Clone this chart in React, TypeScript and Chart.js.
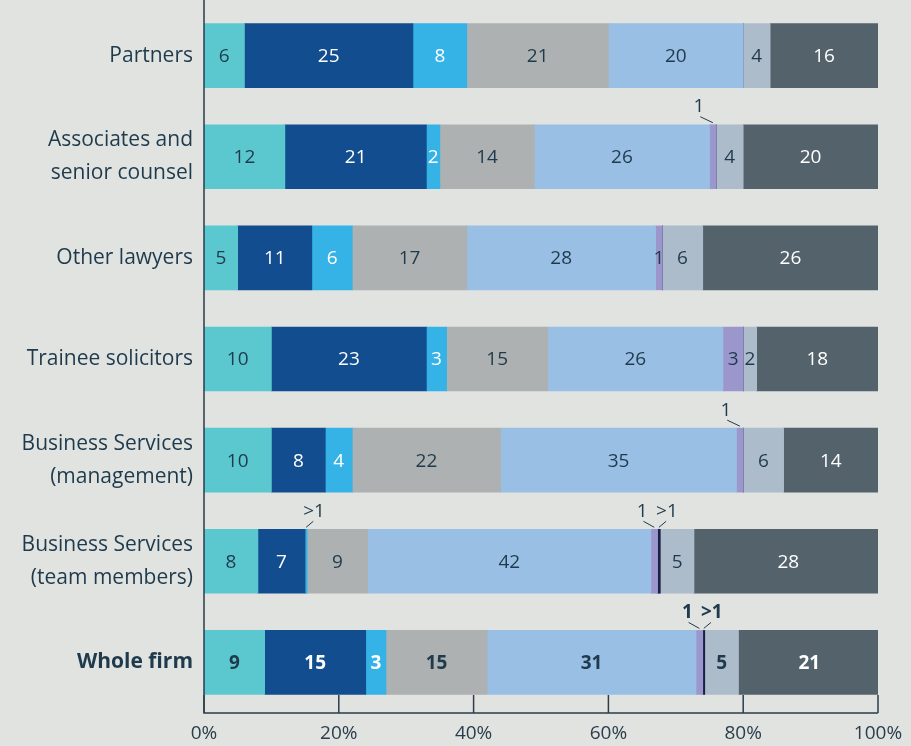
import React, { useEffect, useRef } from "react";
import { Chart, registerables } from "chart.js";

Chart.register(...registerables);

const categories: string[][] = [
  ["Partners"],
  ["Associates and", "senior counsel"],
  ["Other lawyers"],
  ["Trainee solicitors"],
  ["Business Services", "(management)"],
  ["Business Services", "(team members)"],
  ["Whole firm"],
];

const teal = [6, 12, 5, 10, 10, 8, 9];
const darkBlue = [25, 21, 11, 23, 8, 7, 15];
const brightBlue = [8, 2, 6, 3, 4, 0.3, 3];
const grey = [21, 14, 17, 15, 22, 9, 15];
const lightBlue = [20, 26, 28, 26, 35, 42, 31];
const lavender = [0, 1, 1, 3, 1, 1, 1];
const navy = [0, 0, 0, 0, 0, 0.4, 0.3];
const blueGrey = [4, 4, 6, 2, 6, 5, 5];
const slate = [16, 20, 26, 18, 14, 28, 21];

const xTicks = [0, 20, 40, 60, 80, 100];

// small values shown above the bar with a leader line: [row, series, side offset]
const callouts: [number, number, number][] = [
  [1, 5, -14],
  [4, 5, -14],
  [5, 2, 8],
  [5, 5, -12],
  [5, 6, 8],
  [6, 5, -12],
  [6, 6, 8],
];

const seriesData = [teal, darkBlue, brightBlue, grey, lightBlue, lavender, navy, blueGrey, slate];
const seriesColors = ["#5bc8d0", "#124d8f", "#35b2e6", "#adb1b1", "#99bfe5", "#9b97cc", "#1a1f48", "#adbccb", "#54626b"];
const labelColors = ["#1e3a4c", "#ffffff", "#ffffff", "#1e3a4c", "#1e3a4c", "#1e3a4c", "#ffffff", "#1e3a4c", "#ffffff"];

const TEXT = "#1e3a4c";
const AXIS = "#2b3d4c";
const FONT = "'Open Sans', 'Noto Sans', sans-serif";
const BOLD_ROW = 6;

const fmt = (v: number) => (v < 1 ? ">1" : String(v));

const labelsPlugin = {
  id: "customLabels",
  afterDatasetsDraw(chart: any) {
    const ctx = chart.ctx;
    ctx.save();
    ctx.textAlign = "center";
    ctx.textBaseline = "middle";
    const isCallout = (r: number, s: number) => callouts.some((c) => c[0] === r && c[1] === s);
    seriesData.forEach((arr, s) => {
      const meta = chart.getDatasetMeta(s);
      arr.forEach((v, r) => {
        if (!v || isCallout(r, s)) return;
        const el = meta.data[r];
        const cx = (el.x + el.base) / 2;
        ctx.font = `${r === BOLD_ROW ? "bold " : ""}19px ${FONT}`;
        ctx.fillStyle = labelColors[s];
        ctx.fillText(fmt(v), cx, el.y + 1);
      });
    });
    callouts.forEach(([r, s, dx]) => {
      const el = chart.getDatasetMeta(s).data[r];
      const v = seriesData[s][r];
      const cx = (el.x + el.base) / 2;
      const top = el.y - el.height / 2;
      ctx.strokeStyle = TEXT;
      ctx.lineWidth = 1;
      ctx.beginPath();
      ctx.moveTo(cx, top - 2);
      ctx.lineTo(cx + dx * 0.9, top - 8);
      ctx.stroke();
      ctx.font = `${r === BOLD_ROW ? "bold " : ""}19px ${FONT}`;
      ctx.fillStyle = TEXT;
      ctx.fillText(fmt(v), cx + dx, top - 18);
    });
    ctx.restore();
  },
  afterDraw(chart: any) {
    const ctx = chart.ctx;
    const { left, right, bottom } = chart.chartArea;
    const xs = chart.scales.x;
    ctx.save();
    ctx.strokeStyle = AXIS;
    ctx.lineWidth = 1.5;
    ctx.beginPath();
    ctx.moveTo(left, 0);
    ctx.lineTo(left, bottom);
    ctx.lineTo(right, bottom);
    ctx.stroke();
    xTicks.forEach((t) => {
      const px = xs.getPixelForValue(t);
      ctx.beginPath();
      ctx.moveTo(px, bottom);
      ctx.lineTo(px, bottom - 18);
      ctx.stroke();
    });
    ctx.restore();
  },
};

export default function App() {
  const ref = useRef<HTMLCanvasElement>(null);
  useEffect(() => {
    document.body.style.margin = "0";
    const chart = new Chart(ref.current!, {
      type: "bar",
      data: {
        labels: categories,
        datasets: seriesData.map((d, i) => ({
          data: d,
          backgroundColor: seriesColors[i],
          borderWidth: 0,
          barThickness: 64,
        })),
      },
      options: {
        indexAxis: "y",
        animation: false,
        responsive: false,
        layout: { padding: { top: 5, right: 33, left: 0, bottom: 0 } },
        plugins: { legend: { display: false }, tooltip: { enabled: false } },
        scales: {
          x: {
            stacked: true,
            min: 0,
            max: 100,
            grid: { display: false, drawTicks: false },
            border: { display: false },
            afterFit: (s: any) => {
              s.height = 33;
              s.paddingLeft = 0;
              s.paddingRight = 0;
            },
            afterBuildTicks: (s: any) => {
              s.ticks = xTicks.map((v) => ({ value: v }));
            },
            ticks: {
              padding: 9,
              color: AXIS,
              font: { size: 19, family: FONT },
              callback: (v: any) => v + "%",
            },
          },
          y: {
            stacked: true,
            grid: { display: false, drawTicks: false },
            border: { display: false },
            afterFit: (s: any) => {
              s.width = 204;
              s.paddingTop = 0;
              s.paddingBottom = 0;
            },
            ticks: {
              padding: 11,
              color: TEXT,
              font: (c: any) => ({
                size: 21,
                family: FONT,
                lineHeight: 1.56,
                weight: c.index === BOLD_ROW ? "bold" : "normal",
              }),
            },
          },
        },
      },
      plugins: [labelsPlugin],
    });
    return () => chart.destroy();
  }, []);
  return (
    <div style={{ position: "fixed", left: 0, top: 0, width: 911, height: 746, background: "#e1e3e0" }}>
      <canvas ref={ref} width={911} height={746} />
    </div>
  );
}
